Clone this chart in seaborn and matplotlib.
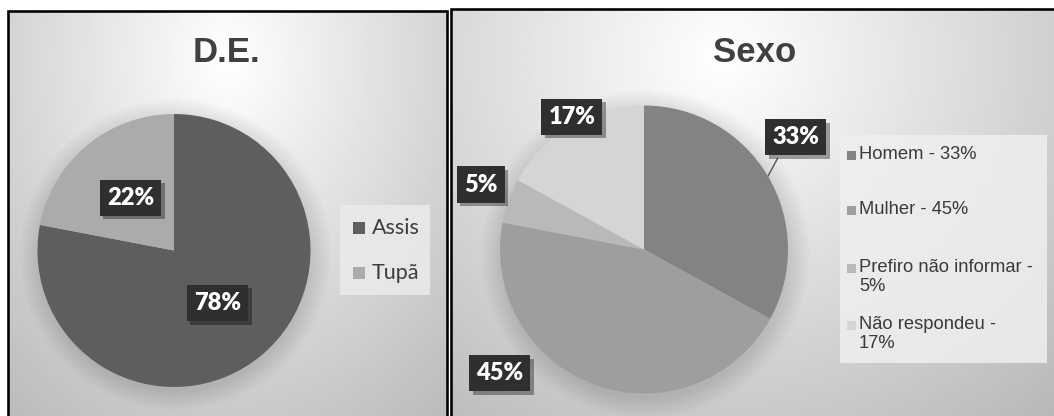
import numpy as np
import matplotlib
matplotlib.use("Agg")
import matplotlib.pyplot as plt
import matplotlib.patheffects as pe
from matplotlib.patches import Rectangle, Circle
import seaborn as sns

# ---------------- data ----------------
de_title = "D.E."
de_labels = ["Assis", "Tupã"]
de_values = [78, 22]
de_colors = ["#5e5e5e", "#ababab"]

sexo_title = "Sexo"
sexo_legend = ["Homem - 33%", "Mulher - 45%", "Prefiro não informar -\n5%", "Não respondeu -\n17%"]
sexo_values = [33, 45, 5, 17]
sexo_colors = ["#838383", "#9e9e9e", "#b9b9b9", "#d5d5d5"]

# ---------------- style ----------------
sns.set_theme(style="white")
plt.rcParams['font.family'] = ['Liberation Sans', 'DejaVu Sans']

W, H = 1054, 416
fig = plt.figure(figsize=(W / 100, H / 100), dpi=100)
fig.patch.set_facecolor('white')
PX = 72 / 100  # points per pixel


def rect(x0, y0, x1, y1):
    return [x0 / W, 1 - y1 / H, (x1 - x0) / W, (y1 - y0) / H]


def fxy(x, y):
    return x / W, 1 - y / H


def panel(x0, y0, x1, y1, cx_frac):
    ax = fig.add_axes(rect(x0, y0, x1, y1), zorder=0)
    w, h = x1 - x0, y1 - y0
    X, Y = np.meshgrid(np.linspace(0, w, 300), np.linspace(0, h, 300))
    cx, cy = w * cx_frac, h * 0.12
    d = np.sqrt(((X - cx) / (w * 0.75)) ** 2 + ((Y - cy) / (h * 1.05)) ** 2)
    val = 1.0 - 0.25 * np.clip(d, 0, 1.3)
    ax.imshow(val, cmap='gray', vmin=0, vmax=1, extent=[0, w, h, 0],
              aspect='auto', interpolation='bilinear')
    ax.set_xlim(0, w)
    ax.set_ylim(h, 0)
    ax.set_axis_off()
    return ax


panel(8, 11, 447, 416, 0.5)
panel(451, 9, 1054, 416, 0.45)

# panel borders
for (x0, y0, x1, y1) in [(8, 11, 447, 422), (451, 9, 1062, 422)]:
    fig.patches.append(Rectangle(fxy(x0, y1), (x1 - x0) / W, (y1 - y0) / H,
                                 transform=fig.transFigure, fill=False,
                                 edgecolor='black', linewidth=2.6 * PX, zorder=5))


def pie_axes(cx, cy, r):
    ax = fig.add_axes(rect(cx - r, cy - r, cx + r, cy + r), zorder=2)
    return ax


def finish_pie(ax):
    ax.set_xlim(-1, 1)
    ax.set_ylim(-1, 1)
    ax.set_aspect('equal')
    ax.set_axis_off()


def soft_shadow(ax):
    for i in range(14):
        ax.add_patch(Circle((0.01, -0.03), 1.0 + 0.011 * i, facecolor='black',
                            edgecolor='none', alpha=0.009, zorder=0, clip_on=False))


def data_label(ax, x, y, txt):
    t = ax.text(x, y, txt, ha='center', va='center', color='white',
                fontsize=17, fontweight='heavy', family=['Lato', 'DejaVu Sans'],
                bbox=dict(boxstyle='square,pad=0.3', fc='#2f2f2f', ec='none'),
                zorder=10, clip_on=False)
    t.get_bbox_patch().set_path_effects([
        pe.SimplePatchShadow(offset=(2.5, -2.5), shadow_rgbFace='black', alpha=0.35),
        pe.Normal()])
    return t


# ---------------- D.E. pie ----------------
axL = pie_axes(174, 250.5, 136.5)
soft_shadow(axL)
wedgesL, _ = axL.pie(de_values, colors=de_colors, startangle=90, counterclock=False,
                     radius=1, wedgeprops=dict(linewidth=0), frame=False)
finish_pie(axL)
for w_, v in zip(wedgesL, de_values):
    mid = np.deg2rad((w_.theta1 + w_.theta2) / 2)
    data_label(axL, 0.5 * np.cos(mid), 0.5 * np.sin(mid), f"{v}%")

fig.text(*fxy(226, 53), de_title, ha='center', va='center', fontsize=25,
         fontweight='bold', color='#404040')

# legend D.E.
fig.patches.append(Rectangle(fxy(340, 295), 90 / W, 90 / H, transform=fig.transFigure,
                             facecolor='#ebebeb', edgecolor='none', alpha=0.85, zorder=3))
for i, (lab, col) in enumerate(zip(de_labels, de_colors)):
    yc = 228 + 45 * i
    fig.patches.append(Rectangle(fxy(353, yc + 6), 12 / W, 12 / H, transform=fig.transFigure,
                                 facecolor=col, edgecolor='none', zorder=4))
    fig.text(*fxy(372, yc), lab, ha='left', va='center', fontsize=15.5,
             family=['Lato', 'DejaVu Sans'], color='#3c3c3c', zorder=4)

# ---------------- Sexo pie ----------------
cxR, cyR, rR = 644, 249.5, 144
axR = pie_axes(cxR, cyR, rR)
soft_shadow(axR)
wedgesR, _ = axR.pie(sexo_values, colors=sexo_colors, startangle=90, counterclock=False,
                     radius=1, wedgeprops=dict(linewidth=0), frame=False)
finish_pie(axR)
label_polar = [(36.5, 1.31), (220.6, 1.32), (158.3, 1.22), (118.5, 1.05)]
for (ang, rad), v in zip(label_polar, sexo_values):
    a = np.deg2rad(ang)
    data_label(axR, rad * np.cos(a), rad * np.sin(a), f"{v}%")

# leader line for Homem label
w0 = wedgesR[0]
m0 = np.deg2rad((w0.theta1 + w0.theta2) / 2)
a = np.deg2rad(label_polar[0][0])
lx, ly = label_polar[0][1] * np.cos(a), label_polar[0][1] * np.sin(a)
axR.plot([np.cos(m0), lx - 0.125], [np.sin(m0), ly - 0.146], color='#555555',
         linewidth=1.0, zorder=9, clip_on=False)

fig.text(*fxy(755, 53), sexo_title, ha='center', va='center', fontsize=25,
         fontweight='bold', color='#404040')

# legend Sexo
fig.patches.append(Rectangle(fxy(840, 363), 207 / W, 228 / H, transform=fig.transFigure,
                             facecolor='#efefef', edgecolor='none', alpha=0.85, zorder=3))
first_line_y = [155, 210, 268, 325]
for lab, col, yc in zip(sexo_legend, sexo_colors, first_line_y):
    fig.patches.append(Rectangle(fxy(847, yc + 4.5), 9 / W, 9 / H, transform=fig.transFigure,
                                 facecolor=col, edgecolor='none', zorder=4))
    fig.text(*fxy(859, yc - 9), lab, ha='left', va='top', fontsize=13.2,
             family=['Liberation Sans', 'DejaVu Sans'],
             color='#3a3a3a', linespacing=1.12, zorder=4)

fig.savefig("out.png", dpi=100, facecolor=fig.get_facecolor())
